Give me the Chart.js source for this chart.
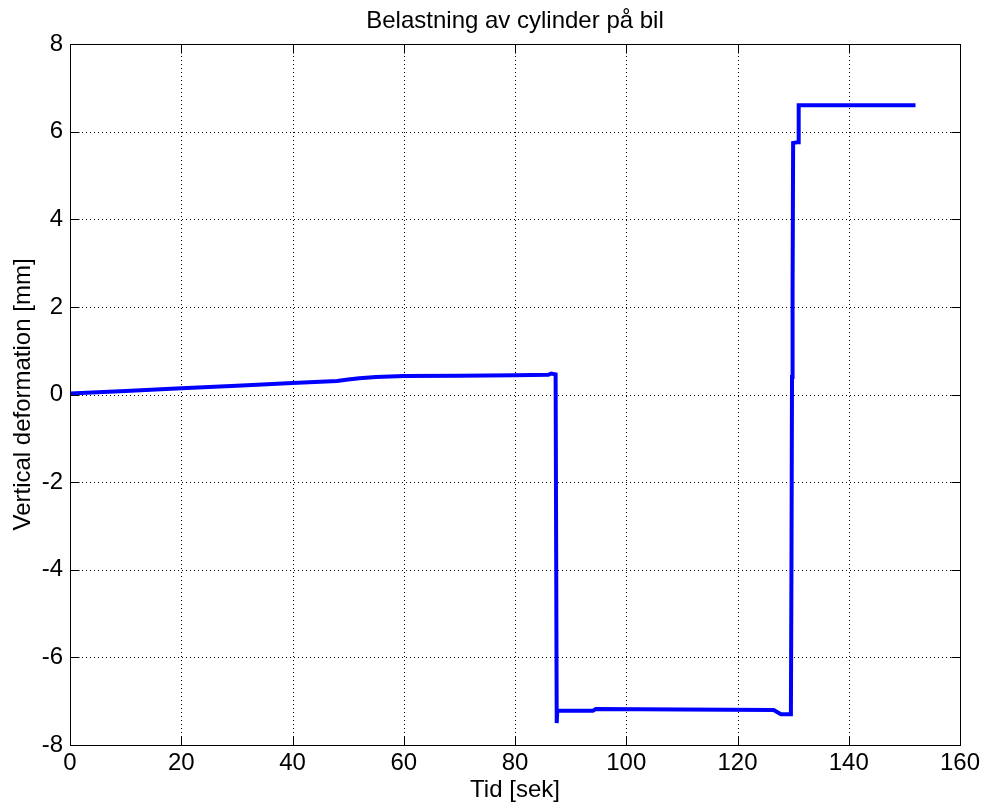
<!DOCTYPE html>
<html>
<head>
<meta charset="utf-8">
<script src="https://cdn.jsdelivr.net/npm/chart.js@4/dist/chart.umd.min.js"></script>
<style>
  html, body { margin: 0; padding: 0; background: #fff; }
  canvas { display: block; }
</style>
</head>
<body>
<canvas id="c" width="987" height="812"></canvas>
<script>
// Labels
const chartTitle = 'Belastning av cylinder på bil';
const xAxisTitle = 'Tid [sek]';
const yAxisTitle = 'Vertical deformation [mm]';

// Tick values
const xTicks = [0, 20, 40, 60, 80, 100, 120, 140, 160];
const yTicks = [-8, -6, -4, -2, 0, 2, 4, 6, 8];

// Measured series: time [s] and vertical deformation [mm]
const timeSec = [0, 10, 20, 30, 40, 48, 50, 52, 55, 60, 70, 80, 86, 86.5, 87.3, 87.5, 87.6,
                 94, 94.5, 110, 126.5, 127.8, 129.6, 129.7, 129.8, 129.9, 130.0, 130.9, 131.0, 152];
const deformationMm = [0.02, 0.08, 0.14, 0.2, 0.26, 0.31, 0.34, 0.37, 0.4, 0.42, 0.43, 0.44, 0.45, 0.48, 0.46, -7.5, -7.22,
                       -7.22, -7.18, -7.19, -7.2, -7.3, -7.3, -4.0, 0.4, 2.3, 5.74, 5.76, 6.6, 6.6];

const FONT = '"Liberation Sans", Arial, Helvetica, sans-serif';
Chart.defaults.font.family = FONT;
Chart.defaults.color = '#000';

const TICK_LEN = 9;

// Dotted grid, axes box with inward ticks, and the title
const axesFrame = {
  id: 'axesFrame',
  beforeDatasetsDraw(chart) {
    const { ctx, chartArea: a, scales: { x, y } } = chart;
    ctx.save();
    ctx.strokeStyle = '#000';
    ctx.lineWidth = 1;
    ctx.setLineDash([1, 3]);
    xTicks.slice(1, -1).forEach(v => {
      const px = Math.round(x.getPixelForValue(v)) + 0.5;
      ctx.beginPath(); ctx.moveTo(px, a.top); ctx.lineTo(px, a.bottom); ctx.stroke();
    });
    yTicks.slice(1, -1).forEach(v => {
      const py = Math.round(y.getPixelForValue(v)) + 0.5;
      ctx.beginPath(); ctx.moveTo(a.left, py); ctx.lineTo(a.right, py); ctx.stroke();
    });
    ctx.restore();
  },
  afterDatasetsDraw(chart) {
    const { ctx, chartArea: a, scales: { x, y } } = chart;
    const L = Math.round(a.left) + 0.5, R = Math.round(a.right) + 0.5;
    const T = Math.round(a.top) + 0.5, B = Math.round(a.bottom) + 0.5;
    ctx.save();
    ctx.strokeStyle = '#000';
    ctx.lineWidth = 1;
    ctx.setLineDash([]);
    ctx.strokeRect(L, T, R - L, B - T);
    ctx.beginPath();
    xTicks.forEach(v => {
      const px = Math.round(x.getPixelForValue(v)) + 0.5;
      ctx.moveTo(px, B); ctx.lineTo(px, B - TICK_LEN);
      ctx.moveTo(px, T); ctx.lineTo(px, T + TICK_LEN);
    });
    yTicks.forEach(v => {
      const py = Math.round(y.getPixelForValue(v)) + 0.5;
      ctx.moveTo(L, py); ctx.lineTo(L + TICK_LEN, py);
      ctx.moveTo(R, py); ctx.lineTo(R - TICK_LEN, py);
    });
    ctx.stroke();

    ctx.fillStyle = '#000';
    ctx.font = '24px ' + FONT;
    ctx.textAlign = 'center';
    ctx.textBaseline = 'alphabetic';
    ctx.fillText(chartTitle, (a.left + a.right) / 2, 28);
    ctx.restore();
  }
};

new Chart(document.getElementById('c'), {
  type: 'line',
  data: {
    datasets: [{
      data: timeSec.map((t, i) => ({ x: t, y: deformationMm[i] })),
      borderColor: '#0000ff',
      borderWidth: 4,
      pointRadius: 0,
      tension: 0,
      fill: false,
      borderJoinStyle: 'miter',
      borderCapStyle: 'butt'
    }]
  },
  options: {
    responsive: false,
    animation: false,
    events: [],
    layout: { padding: { top: 44, right: 27, left: 0, bottom: 0 } },
    plugins: {
      legend: { display: false },
      tooltip: { enabled: false },
      title: { display: false }
    },
    scales: {
      x: {
        type: 'linear',
        min: 0, max: 160,
        afterBuildTicks: s => { s.ticks = xTicks.map(v => ({ value: v })); },
        afterFit: s => { s.height = 67; },
        grid: { display: false, drawTicks: false },
        border: { display: false },
        ticks: { font: { size: 24, lineHeight: 1 }, padding: 6, maxRotation: 0, autoSkip: false, color: '#000' },
        title: { display: true, text: xAxisTitle, font: { size: 24, lineHeight: 1 }, padding: { top: 0, bottom: 10 }, color: '#000' }
      },
      y: {
        type: 'linear',
        min: -8, max: 8,
        afterBuildTicks: s => { s.ticks = yTicks.map(v => ({ value: v })); },
        afterFit: s => { s.width = 70; },
        grid: { display: false, drawTicks: false },
        border: { display: false },
        ticks: { font: { size: 24, lineHeight: 1 }, padding: 7, autoSkip: false, color: '#000' },
        title: { display: true, text: yAxisTitle, font: { size: 24, lineHeight: 1 }, padding: { top: 11, bottom: 0 }, color: '#000' }
      }
    }
  },
  plugins: [axesFrame]
});
</script>
</body>
</html>
